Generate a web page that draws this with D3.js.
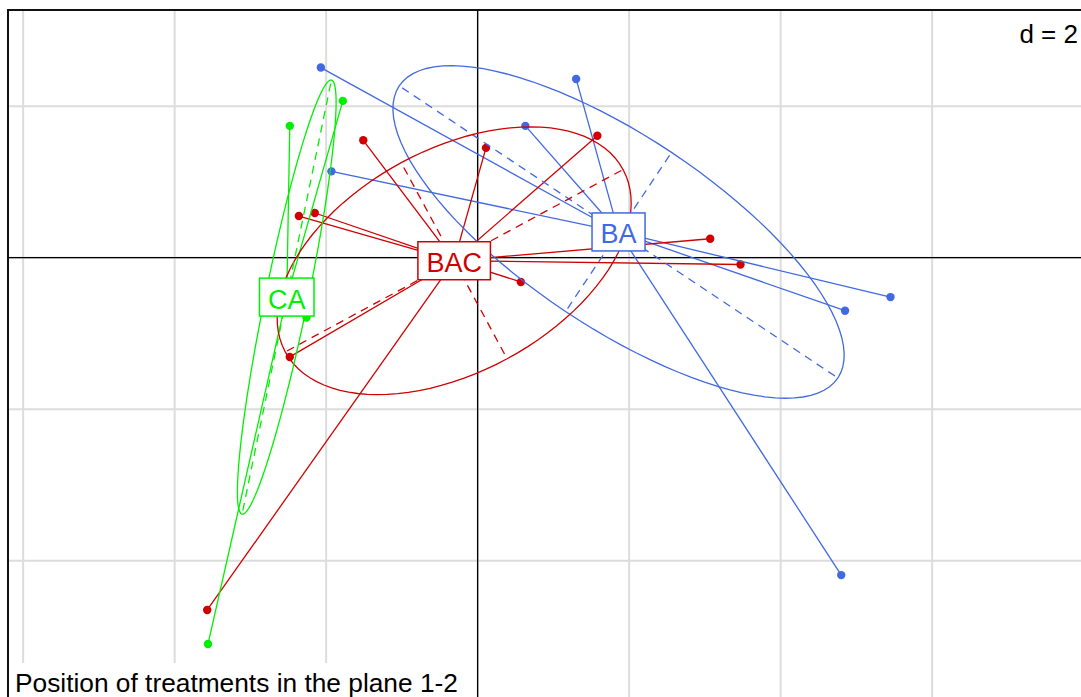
<!DOCTYPE html>
<html>
<head>
<meta charset="utf-8">
<script src="https://cdn.jsdelivr.net/npm/d3@7"></script>
<style>
  body { margin: 0; background: #fff; }
  svg { display: block; font-family: "Liberation Sans", Arial, sans-serif; }
</style>
</head>
<body>
<svg width="1081" height="697"></svg>
<script>
// classes and their rows (coordinates on axes 1 and 2)
const classNames = ["BA", "BAC", "CA"];

const baX = [-2.07, 1.30, 0.63, -1.93, 4.85, 5.45, 4.80];
const baY = [2.51, 2.36, 1.74, 1.14, -0.70, -0.52, -4.19];

const bacX = [-1.51, 0.11, 1.58, -2.36, -2.15, 3.07, 3.47, 0.57, -2.48, -3.57];
const bacY = [1.55, 1.45, 1.61, 0.55, 0.59, 0.25, -0.09, -0.32, -1.31, -4.65];

const caX = [-2.48, -1.78, -2.26, -3.56];
const caY = [1.74, 2.07, -0.79, -5.10];

// class centres as they sit in the picture
const centerX = [1.86, -0.31, -2.52];
const centerY = [0.34, -0.04, -0.52];

const gridX = [-6, -4, -2, 0, 2, 4, 6, 8];
const gridY = [2, 0, -2, -4, -6];
const gridLabel = "d = 2";
const subTitle = "Position of treatments in the plane 1-2";

function makeChart() {
  let svg = d3.select("svg");
  let ppu = 75.75;
  let left = 8, top = 10;

  let scX = d3.scaleLinear().domain([-6.2, 8.1]).range([left, left + 14.3 * ppu]);
  let scY = d3.scaleLinear().domain([3.27, -6.0]).range([top, top + 9.27 * ppu]);

  let color = d3.scaleOrdinal().domain(classNames)
                .range(["#4169E1", "#D00000", "#00F000"]);

  let groups = classNames.map((name, i) => {
    let xs = [baX, bacX, caX][i];
    let ys = [baY, bacY, caY][i];
    return { name: name, cx: centerX[i], cy: centerY[i],
             pts: xs.map((x, j) => ({ x: x, y: ys[j] })) };
  });

  // grid
  let grid = svg.append("g").attr("stroke", "#dcdcdc").attr("stroke-width", 2);
  grid.selectAll("line.gx").data(gridX).enter()
      .append("line")
      .attr("x1", d => scX(d)).attr("x2", d => scX(d))
      .attr("y1", top).attr("y2", 697);
  grid.selectAll("line.gy").data(gridY).enter()
      .append("line")
      .attr("y1", d => scY(d)).attr("y2", d => scY(d))
      .attr("x1", left).attr("x2", 1081);

  // axes through origin
  svg.append("line").attr("stroke", "#000").attr("stroke-width", 1.3)
     .attr("x1", left).attr("x2", 1081)
     .attr("y1", scY(0)).attr("y2", scY(0));
  svg.append("line").attr("stroke", "#000").attr("stroke-width", 1.3)
     .attr("x1", scX(0)).attr("x2", scX(0))
     .attr("y1", top).attr("y2", 697);

  // sub title with white background
  let sub = svg.append("g");
  let subText = sub.append("text")
     .attr("x", 15).attr("y", 692)
     .attr("font-size", 26.3).attr("fill", "#000")
     .text(subTitle);
  let sb = subText.node().getBBox();
  sub.insert("rect", "text")
     .attr("x", left + 1).attr("y", 663)
     .attr("width", sb.x + sb.width + 8 - left).attr("height", 40)
     .attr("fill", "#fff");

  // d = 2 in the corner
  let dl = svg.append("g");
  let dText = dl.append("text")
     .attr("x", 1078).attr("y", 43)
     .attr("text-anchor", "end")
     .attr("font-size", 26).attr("fill", "#000")
     .text(gridLabel);
  let db = dText.node().getBBox();
  dl.insert("rect", "text")
     .attr("x", db.x - 6).attr("y", top + 2)
     .attr("width", db.width + 12).attr("height", 40)
     .attr("fill", "#fff");

  // points
  groups.forEach(g => {
    svg.append("g").attr("fill", color(g.name))
       .selectAll("circle")
       .data(g.pts)
       .enter()
       .append("circle")
       .attr("r", 4.2)
       .attr("cx", d => scX(d.x))
       .attr("cy", d => scY(d.y));
  });

  // stars: centre to each row
  groups.forEach(g => {
    svg.append("g").attr("stroke", color(g.name)).attr("stroke-width", 1.3)
       .selectAll("line")
       .data(g.pts)
       .enter()
       .append("line")
       .attr("x1", scX(g.cx)).attr("y1", scY(g.cy))
       .attr("x2", d => scX(d.x)).attr("y2", d => scY(d.y));
  });

  // ellipses from the class covariance around the centre
  let lineMaker = d3.line().x(d => scX(d[0])).y(d => scY(d[1]));
  groups.forEach(g => {
    let n = g.pts.length;
    let sxx = d3.sum(g.pts, d => (d.x - g.cx) ** 2) / n;
    let syy = d3.sum(g.pts, d => (d.y - g.cy) ** 2) / n;
    let sxy = d3.sum(g.pts, d => (d.x - g.cx) * (d.y - g.cy)) / n;
    let tr = sxx + syy;
    let disc = Math.sqrt((sxx - syy) ** 2 + 4 * sxy * sxy);
    let l1 = (tr + disc) / 2, l2 = (tr - disc) / 2;
    let ux = sxy, uy = l1 - sxx;
    let un = Math.hypot(ux, uy);
    ux /= un; uy /= un;
    let vx = -uy, vy = ux;
    let a = Math.sqrt(l1), b = Math.sqrt(Math.max(l2, 0));

    let ring = d3.range(0, 101).map(k => {
      let t = k / 100 * 2 * Math.PI;
      return [g.cx + a * Math.cos(t) * ux + b * Math.sin(t) * vx,
              g.cy + a * Math.cos(t) * uy + b * Math.sin(t) * vy];
    });
    let eg = svg.append("g").attr("stroke", color(g.name))
                .attr("stroke-width", 1.3).attr("fill", "none");
    eg.append("path").attr("d", lineMaker(ring));

    let axesEnds = [[a * ux, a * uy], [-a * ux, -a * uy], [b * vx, b * vy], [-b * vx, -b * vy]];
    eg.selectAll("line")
      .data(axesEnds)
      .enter()
      .append("line")
      .attr("stroke-dasharray", "8,6")
      .attr("x1", scX(g.cx)).attr("y1", scY(g.cy))
      .attr("x2", d => scX(g.cx + d[0])).attr("y2", d => scY(g.cy + d[1]));
  });

  // class labels in boxes
  groups.forEach(g => {
    let lg = svg.append("g");
    let t = lg.append("text")
       .attr("x", scX(g.cx)).attr("y", scY(g.cy) + 11.5)
       .attr("text-anchor", "middle")
       .attr("font-size", 27).attr("fill", color(g.name))
       .text(g.name);
    let w = t.node().getComputedTextLength();
    lg.insert("rect", "text")
      .attr("x", scX(g.cx) - w / 2 - 8.5).attr("y", scY(g.cy) - 19)
      .attr("width", w + 17).attr("height", 38)
      .attr("fill", "#fff").attr("stroke", color(g.name)).attr("stroke-width", 1.5);
  });

  // frame
  svg.append("rect")
     .attr("x", left).attr("y", top)
     .attr("width", scX(8.1) - left).attr("height", scY(-6.0) - top)
     .attr("fill", "none").attr("stroke", "#111").attr("stroke-width", 2);
}

makeChart();
</script>
</body>
</html>
